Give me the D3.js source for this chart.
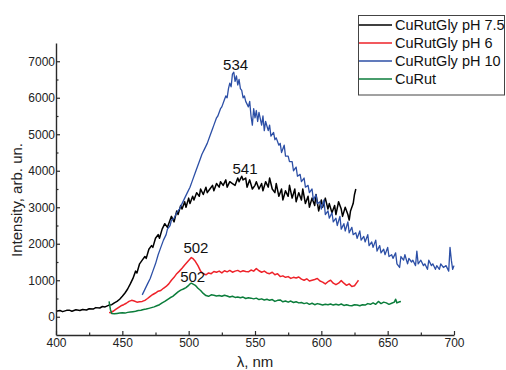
<!DOCTYPE html>
<html><head><meta charset="utf-8">
<script src="https://cdn.jsdelivr.net/npm/d3@7"></script>
<style>
html,body{margin:0;padding:0;background:#fff;}
svg{display:block;font-family:"Liberation Sans",Arial,sans-serif;}
</style></head>
<body>
<svg id="chart" width="506" height="370"></svg>
<script>
// ---------- data ----------
const xTicks = [400, 450, 500, 550, 600, 650, 700];
const xMinorTicks = [425, 475, 525, 575, 625, 675];
const yTicks = [0, 1000, 2000, 3000, 4000, 5000, 6000, 7000];
const yMinorTicks = [500, 1500, 2500, 3500, 4500, 5500, 6500];

const seriesNames = ["CuRutGly pH 7.5", "CuRutGly pH 6", "CuRutGly pH 10", "CuRut"];
const seriesColors = ["#000000", "#ee2229", "#2c4fa6", "#0b7d3b"];

// [wavelength nm, intensity]
const ph75 = [[400,150],[403,170],[405,140],[408,175],[410,180],[412,150],[415,190],[418,170],[420,200],[423,185],[425,220],[428,210],[430,250],[433,240],[435,280],[437,270],[440,320],[442,330],[444,380],[446,420],[448,480],[450,560],[452,650],[454,760],[456,900],[458,1050],[460,1250],[461,1200],[463,1450],[465,1550],[467,1650],[468,1600],[470,1850],[472,1950],[473,1900],[475,2150],[477,2250],[478,2150],[480,2400],[482,2550],[484,2450],[486,2650],[487,2750],[489,2600],[491,2900],[492,2800],[494,3050],[495,2950],[497,3150],[498,3000],[500,3250],[501,3100],[503,3300],[504,3200],[506,3400],[508,3300],[509,3500],[511,3350],[513,3550],[514,3400],[516,3500],[518,3600],[519,3450],[521,3650],[523,3550],[524,3700],[526,3600],[528,3750],[529,3550],[531,3700],[533,3650],[535,3600],[537,3800],[538,3700],[540,3850],[541,3750],[543,3800],[544,3550],[546,3750],[548,3500],[550,3600],[551,3700],[553,3500],[555,3650],[556,3450],[558,3700],[560,3550],[561,3800],[563,3500],[565,3400],[566,3650],[568,3300],[570,3500],[571,3200],[573,3450],[575,3300],[576,3600],[578,3250],[580,3500],[581,3150],[583,3400],[585,3200],[586,3500],[588,3100],[590,3300],[591,3000],[593,3250],[595,3050],[596,3350],[598,2900],[600,3200],[601,3000],[603,3250],[605,2950],[606,3100],[608,2850],[610,3050],[611,2800],[613,3150],[615,2950],[616,2750],[618,3000],[620,2800],[621,2650],[622,2900],[624,3100],[625,3350],[626,3500]];

const ph6 = [[440,120],[441,110],[443,150],[445,200],[447,250],[449,300],[451,330],[453,370],[455,420],[457,450],[459,430],[461,400],[463,410],[465,420],[467,450],[469,500],[471,560],[473,610],[475,650],[477,700],[479,720],[481,780],[483,830],[485,900],[487,1000],[489,1080],[491,1180],[493,1250],[495,1330],[497,1420],[499,1500],[501,1580],[502,1620],[503,1600],[505,1520],[507,1400],[509,1250],[511,1180],[513,1150],[515,1200],[517,1180],[519,1240],[521,1220],[523,1250],[525,1200],[527,1260],[529,1230],[531,1270],[533,1220],[535,1250],[537,1270],[539,1230],[541,1260],[543,1240],[545,1230],[547,1280],[549,1250],[551,1320],[553,1260],[555,1220],[557,1250],[559,1200],[561,1180],[563,1220],[565,1150],[567,1180],[569,1100],[571,1120],[573,1080],[575,1100],[577,1050],[579,1080],[581,1060],[583,1090],[585,1030],[587,1000],[589,1040],[591,980],[593,1000],[595,1020],[597,1050],[599,980],[601,950],[603,900],[605,960],[607,1000],[609,920],[611,880],[613,920],[615,990],[617,920],[619,860],[621,900],[623,830],[625,850],[627,950],[628,1000]];

const ph10 = [[465,600],[467,750],[469,900],[471,1050],[473,1250],[475,1450],[477,1700],[479,1900],[481,2100],[483,2250],[484,2400],[486,2500],[487,2650],[489,2700],[491,2850],[493,2950],[495,3100],[497,3250],[499,3400],[501,3550],[503,3750],[505,3950],[507,4150],[509,4350],[510,4450],[512,4600],[514,4750],[516,4950],[518,5150],[519,5250],[521,5450],[522,5500],[524,5700],[525,5750],[527,5950],[528,6050],[529,6000],[530,6250],[531,6400],[532,6300],[533,6650],[534,6700],[535,6450],[536,6600],[537,6350],[538,6500],[539,6250],[540,6200],[541,6000],[542,6050],[543,5900],[545,5750],[546,5900],[547,5500],[548,5250],[549,5700],[550,5450],[551,5650],[552,5350],[553,5600],[555,5250],[556,5500],[557,5100],[558,5350],[560,5100],[561,5250],[562,4950],[564,5050],[565,4850],[566,4900],[568,4700],[569,4750],[570,4500],[572,4700],[573,4400],[575,4400],[576,4250],[578,4250],[579,4000],[581,4100],[582,3850],[584,3900],[585,3700],[587,3800],[588,3550],[590,3600],[591,3400],[593,3500],[594,3200],[596,3350],[597,3100],[599,3150],[600,2950],[602,3200],[603,2800],[605,2900],[606,2700],[608,2850],[609,2600],[611,2700],[612,2500],[614,2750],[615,2400],[617,2550],[618,2350],[620,2600],[621,2300],[623,2450],[624,2250],[626,2300],[627,2150],[629,2350],[630,2100],[632,2200],[633,2050],[635,2250],[636,1950],[638,2050],[639,1900],[641,2100],[642,1800],[644,1950],[645,1750],[647,1850],[648,1700],[650,1900],[651,1650],[653,1700],[654,1600],[656,1750],[657,1450],[659,1350],[660,1650],[662,1550],[663,1700],[665,1450],[666,1600],[668,1500],[669,1550],[671,1400],[672,1800],[673,1450],[675,1550],[677,1400],[678,1450],[680,1300],[681,1550],[683,1400],[684,1450],[686,1300],[687,1400],[689,1300],[690,1450],[692,1350],[694,1400],[696,1250],[697,1900],[698,1550],[699,1300],[700,1400]];

const cuRut = [[440,420],[441,200],[442,90],[444,80],[446,90],[448,100],[450,110],[452,100],[454,120],[456,130],[458,140],[460,150],[462,170],[464,180],[466,200],[468,210],[470,230],[472,250],[474,270],[476,300],[478,330],[480,380],[482,420],[484,470],[486,520],[488,560],[490,620],[492,680],[494,730],[496,760],[498,800],[500,860],[501,900],[502,920],[503,900],[505,860],[507,780],[509,720],[511,640],[513,580],[515,560],[517,600],[519,590],[521,570],[523,580],[525,560],[527,590],[529,570],[531,540],[533,560],[535,530],[537,540],[539,520],[541,540],[543,500],[545,520],[547,510],[549,490],[551,510],[553,470],[555,490],[557,460],[559,480],[561,450],[563,470],[565,420],[567,450],[569,460],[571,410],[573,430],[575,400],[577,430],[579,390],[581,410],[583,380],[585,390],[587,360],[589,380],[591,340],[593,370],[595,330],[597,360],[599,340],[601,320],[603,340],[605,330],[607,350],[609,320],[611,340],[613,320],[615,350],[617,310],[619,330],[621,310],[623,300],[625,330],[627,320],[629,300],[631,330],[633,320],[635,360],[637,340],[639,380],[641,340],[643,420],[645,360],[647,400],[649,380],[651,340],[653,370],[655,400],[656,480],[657,380],[659,410],[660,420]];

const peakLabels = [
  {text: "534", nm: 535.4, v: 6750},
  {text: "541", nm: 542.5, v: 3900},
  {text: "502", nm: 505.5, v: 1740},
  {text: "502", nm: 503.0, v: 945}
];

const allSeries = [ph75, ph6, ph10, cuRut];
const seriesWidths = [1.5, 1.5, 1.3, 1.5];

// ---------- chart ----------
const svg = d3.select("#chart");
const x = d3.scaleLinear().domain([400, 700]).range([56, 454]);
const y = d3.scaleLinear().domain([-500, 7500]).range([335, 43]);

const axisColor = "#2a2a2a";

// lines
const line = d3.line().x(d => x(d[0])).y(d => y(d[1]));
allSeries.forEach((s, i) => {
  svg.append("path").datum(s)
    .attr("d", line)
    .attr("fill", "none")
    .attr("stroke", seriesColors[i])
    .attr("stroke-width", seriesWidths[i])
    .attr("stroke-linejoin", "round");
});

// x axis
const gx = svg.append("g").attr("transform", `translate(0,${y(-500)})`);
gx.call(d3.axisBottom(x).tickValues(xTicks).tickSize(-4).tickSizeOuter(0).tickPadding(3).tickFormat(d3.format("d")));
const gxm = svg.append("g").attr("transform", `translate(0,${y(-500)})`);
gxm.call(d3.axisBottom(x).tickValues(xMinorTicks).tickSize(-2.5).tickSizeOuter(0).tickFormat(""));
gxm.select(".domain").remove();

// y axis
const gy = svg.append("g").attr("transform", `translate(${x(400)},0)`);
gy.call(d3.axisLeft(y).tickValues(yTicks).tickSize(-4).tickSizeOuter(0).tickPadding(1).tickFormat(d3.format("d")));
const gym = svg.append("g").attr("transform", `translate(${x(400)},0)`);
gym.call(d3.axisLeft(y).tickValues(yMinorTicks).tickSize(-2.5).tickSizeOuter(0).tickFormat(""));
gym.select(".domain").remove();

[gx, gxm, gy, gym].forEach(g => {
  g.selectAll(".domain").attr("stroke", axisColor).attr("stroke-width", 1.4);
  g.selectAll(".tick line").attr("stroke", axisColor).attr("stroke-width", 1.2);
  g.selectAll(".tick text").attr("fill", "#222").attr("font-size", 12)
    .attr("font-family", '"Liberation Sans",Arial,sans-serif');
});

// axis titles
svg.append("text")
  .attr("transform", `translate(22,200) rotate(-90)`)
  .attr("text-anchor", "middle")
  .attr("font-size", 15).attr("fill", "#222")
  .text("Intensity, arb. un.");
svg.append("text")
  .attr("x", 255).attr("y", 367)
  .attr("text-anchor", "middle")
  .attr("font-size", 15).attr("fill", "#222")
  .text("λ, nm");

// peak labels
svg.selectAll(".peak").data(peakLabels).enter().append("text")
  .attr("class", "peak")
  .attr("x", d => x(d.nm)).attr("y", d => y(d.v))
  .attr("text-anchor", "middle")
  .attr("font-size", 15).attr("fill", "#111")
  .text(d => d.text);

// legend
const lg = svg.append("g");
lg.append("rect").attr("x", 358.5).attr("y", 15.5).attr("width", 146).attr("height", 79.5)
  .attr("fill", "#fff").attr("stroke", "#444").attr("stroke-width", 1);
seriesNames.forEach((name, i) => {
  const ry = 25 + i * 18;
  lg.append("line").attr("x1", 359).attr("x2", 392).attr("y1", ry).attr("y2", ry)
    .attr("stroke", seriesColors[i]).attr("stroke-width", 1.5);
  lg.append("text").attr("x", 395).attr("y", ry + 5)
    .attr("font-size", 14.5).attr("fill", "#111")
    .text(name);
});
</script>
</body></html>
